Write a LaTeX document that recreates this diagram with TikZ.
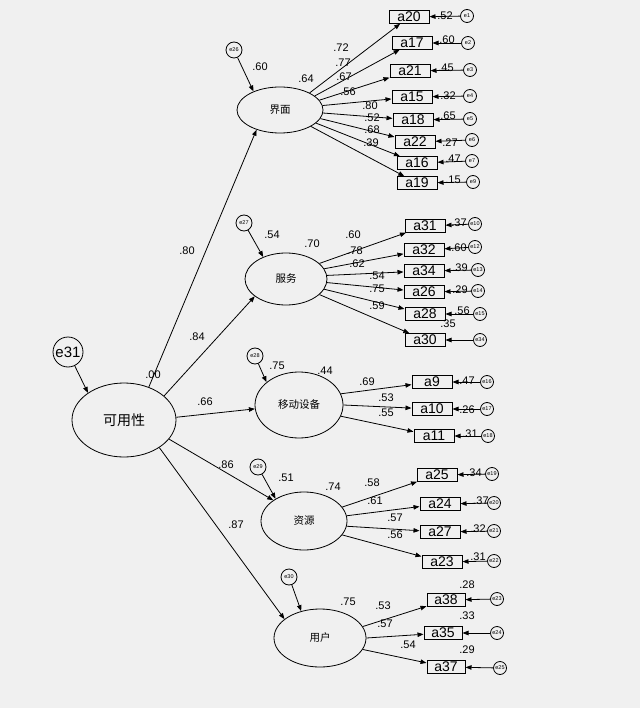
\documentclass[tikz,border=0pt]{standalone}
\usepackage{fontspec}
\setmainfont{Liberation Sans}
\newfontfamily\cjk{Noto Sans CJK SC}
\usetikzlibrary{shapes.geometric,arrows.meta}
\definecolor{bggray}{RGB}{240,240,240}

\begin{document}
\begin{tikzpicture}[x=1pt, y=-1pt, line width=0.8pt,
	lat/.style={ellipse, draw, inner sep=0pt, font=\cjk\fontsize{10.5}{12}\selectfont},
	obs/.style={draw, line width=1pt, minimum width=40pt, minimum height=12.5pt, inner sep=0pt, font=\fontsize{14}{14}\selectfont},
	err/.style={circle, draw, minimum size=13pt, inner sep=0pt, font=\fontsize{5.5}{6}\selectfont},
	val/.style={font=\fontsize{11}{11}\selectfont, inner sep=0pt},
	arr/.style={-{Triangle[length=6pt,width=4.5pt]}}]
	\path[use as bounding box, fill=bggray] (0,0) rectangle (640,708);
	% latent variables
	\node[lat, minimum width=104pt, minimum height=74pt, font=\cjk\fontsize{14}{14}\selectfont] (kyx) at (124, 420){可用性};
	\node[lat, minimum width=86pt, minimum height=46pt] (jm) at (280, 110){界面};
	\node[lat, minimum width=82pt, minimum height=52pt] (fw) at (286, 279){服务};
	\node[lat, minimum width=88pt, minimum height=66pt] (yd) at (299, 405){移动设备};
	\node[lat, minimum width=86pt, minimum height=58pt] (zy) at (304, 521){资源};
	\node[lat, minimum width=92pt, minimum height=58pt] (yh) at (320, 638){用户};
	% residuals of the latents
	\node[err, minimum size=30pt, font=\fontsize{15}{15}\selectfont] (e31) at (68, 352){e31};
	\node[err, minimum size=16pt] (e26) at (234, 50){e26};
	\node[err, minimum size=16pt] (e27) at (244, 223){e27};
	\node[err, minimum size=16pt] (e28) at (255, 356){e28};
	\node[err, minimum size=16pt] (e29) at (258, 467){e29};
	\node[err, minimum size=16pt] (e30) at (289, 577){e30};
	\draw[arr] (e31) -- (kyx.143);
	\draw[arr] (e26) -- (jm.145);
	\draw[arr] (e27) -- (fw.136);
	\draw[arr] (e28) -- (yd.145);
	\draw[arr] (e29) -- (zy.142);
	\draw[arr] (e30) -- (yh.125);
	% structural paths
	\draw[arr] (kyx.53) -- (jm.220);
	\draw[arr] (kyx.31) -- (fw.209);
	\draw[arr] (kyx.3) -- (yd.185);
	\draw[arr] (kyx.337) -- (zy.146);
	\draw[arr] (kyx.322) -- (yh.152);
	\node[val] (t00) at (153, 375){.00};
	\node[val] (t80) at (187, 251){.80};
	\node[val] (t84) at (197, 337){.84};
	\node[val] (t66) at (205, 402){.66};
	\node[val] (t86) at (226, 465){.86};
	\node[val] (t87) at (236, 525){.87};
	\node[val] (t60a) at (260, 67){.60};
	\node[val] (t64) at (306, 79){.64};
	\node[val] (t54a) at (272, 235){.54};
	\node[val] (t70) at (312, 244){.70};
	\node[val] (t75a) at (277, 366){.75};
	\node[val] (t44) at (325, 371){.44};
	\node[val] (t51) at (286, 478){.51};
	\node[val] (t74) at (333, 487){.74};
	\node[val] (t75b) at (348, 602){.75};

	% indicators of 界面
	\node[obs] (a20) at (409, 17){a20};
	\node[obs] (a17) at (412, 43){a17};
	\node[obs] (a21) at (410, 71){a21};
	\node[obs] (a15) at (412, 97){a15};
	\node[obs] (a18) at (413, 120){a18};
	\node[obs] (a22) at (415, 142){a22};
	\node[obs] (a16) at (417, 163){a16};
	\node[obs] (a19) at (417, 183){a19};
	\draw[arr] (jm.30) -- (a20);
	\draw[arr] (jm.22) -- (a17);
	\draw[arr] (jm.14) -- (a21);
	\draw[arr] (jm.6) -- (a15);
	\draw[arr] (jm.-4) -- (a18);
	\draw[arr] (jm.-12) -- (a22);
	\draw[arr] (jm.-20) -- (a16);
	\draw[arr] (jm.-28) -- (a19);
	\node[val] (l72) at (341, 48){.72};
	\node[val] (l77) at (343, 63){.77};
	\node[val] (l67) at (344, 77){.67};
	\node[val] (l56) at (348, 92){.56};
	\node[val] (l80) at (370, 106){.80};
	\node[val] (l52) at (372, 118){.52};
	\node[val] (l68) at (372, 130){.68};
	\node[val] (l39) at (371, 143){.39};
	\node[err] (e1) at (467, 16){e1};
	\node[err] (e2) at (468, 43){e2};
	\node[err] (e3) at (470, 70){e3};
	\node[err] (e4) at (470, 96){e4};
	\node[err] (e5) at (470, 119){e5};
	\node[err] (e6) at (472, 140){e6};
	\node[err] (e7) at (472, 161){e7};
	\node[err] (e9) at (473, 182){e9};
	\draw[arr] (e1) -- (a20);
	\draw[arr] (e2) -- (a17);
	\draw[arr] (e3) -- (a21);
	\draw[arr] (e4) -- (a15);
	\draw[arr] (e5) -- (a18);
	\draw[arr] (e6) -- (a22);
	\draw[arr] (e7) -- (a16);
	\draw[arr] (e9) -- (a19);
	\node[val] (r52) at (445, 16){.52};
	\node[val] (r60) at (447, 40){.60};
	\node[val] (r45) at (446, 68){.45};
	\node[val] (r32) at (448, 96){.32};
	\node[val] (r65) at (448, 116){.65};
	\node[val] (r27) at (450, 143){.27};
	\node[val] (r47) at (453, 159){.47};
	\node[val] (r15) at (453, 180){.15};

	% indicators of 服务
	\node[obs] (a31) at (425, 226){a31};
	\node[obs] (a32) at (424, 250){a32};
	\node[obs] (a34) at (424, 271){a34};
	\node[obs] (a26) at (424, 292){a26};
	\node[obs] (a28) at (425, 314){a28};
	\node[obs] (a30) at (425, 340){a30};
	\draw[arr] (fw.25) -- (a31);
	\draw[arr] (fw.15) -- (a32);
	\draw[arr] (fw.5) -- (a34);
	\draw[arr] (fw.-5) -- (a26);
	\draw[arr] (fw.-15) -- (a28);
	\draw[arr] (fw.-25) -- (a30);
	\node[val] (l60) at (353, 235){.60};
	\node[val] (l78) at (355, 251){.78};
	\node[val] (l62) at (357, 264){.62};
	\node[val] (l54) at (377, 276){.54};
	\node[val] (l75) at (377, 289){.75};
	\node[val] (l59) at (377, 306){.59};
	\node[err] (e10) at (475, 224){e10};
	\node[err] (e12) at (475, 247){e12};
	\node[err] (e13) at (478, 270){e13};
	\node[err] (e14) at (478, 291){e14};
	\node[err] (e15) at (480, 314){e15};
	\node[err] (e34) at (480, 340){e34};
	\draw[arr] (e10) -- (a31);
	\draw[arr] (e12) -- (a32);
	\draw[arr] (e13) -- (a34);
	\draw[arr] (e14) -- (a26);
	\draw[arr] (e15) -- (a28);
	\draw[arr] (e34) -- (a30);
	\node[val] (r37) at (459, 223){.37};
	\node[val] (r60b) at (459, 248){.60};
	\node[val] (r39) at (460, 268){.39};
	\node[val] (r29) at (460, 290){.29};
	\node[val] (r56) at (462, 311){.56};
	\node[val] (r35) at (448, 324){.35};

	% indicators of 移动设备
	\node[obs] (a9) at (432, 382){a9};
	\node[obs] (a10) at (432, 409){a10};
	\node[obs] (a11) at (434, 436){a11};
	\draw[arr] (yd.15) -- (a9);
	\draw[arr] (yd.0) -- (a10);
	\draw[arr] (yd.-15) -- (a11);
	\node[val] (l69) at (367, 382){.69};
	\node[val] (l53) at (386, 398){.53};
	\node[val] (l55) at (386, 413){.55};
	\node[err] (e16) at (487, 382){e16};
	\node[err] (e17) at (487, 409){e17};
	\node[err] (e18) at (488, 436){e18};
	\draw[arr] (e16) -- (a9);
	\draw[arr] (e17) -- (a10);
	\draw[arr] (e18) -- (a11);
	\node[val] (r47b) at (467, 381){.47};
	\node[val] (r26) at (467, 410){.26};
	\node[val] (r31) at (470, 434){.31};

	% indicators of 资源
	\node[obs] (a25) at (437, 475){a25};
	\node[obs] (a24) at (440, 504){a24};
	\node[obs] (a27) at (440, 532){a27};
	\node[obs] (a23) at (442, 562){a23};
	\draw[arr] (zy.20) -- (a25);
	\draw[arr] (zy.7) -- (a24);
	\draw[arr] (zy.-7) -- (a27);
	\draw[arr] (zy.-20) -- (a23);
	\node[val] (l58) at (372, 483){.58};
	\node[val] (l61) at (375, 501){.61};
	\node[val] (l57) at (395, 518){.57};
	\node[val] (l56b) at (395, 535){.56};
	\node[err] (e19) at (492, 474){e19};
	\node[err] (e20) at (494, 503){e20};
	\node[err] (e21) at (494, 531){e21};
	\node[err] (e22) at (494, 561){e22};
	\draw[arr] (e19) -- (a25);
	\draw[arr] (e20) -- (a24);
	\draw[arr] (e21) -- (a27);
	\draw[arr] (e22) -- (a23);
	\node[val] (r34) at (474, 473){.34};
	\node[val] (r37b) at (481, 501){.37};
	\node[val] (r32b) at (478, 529){.32};
	\node[val] (r31b) at (478, 557){.31};

	% indicators of 用户
	\node[obs, minimum width=38pt] (a38) at (446, 600){a38};
	\node[obs, minimum width=38pt] (a35) at (443, 633){a35};
	\node[obs, minimum width=38pt] (a37) at (446, 667){a37};
	\draw[arr] (yh.15) -- (a38);
	\draw[arr] (yh.0) -- (a35);
	\draw[arr] (yh.-15) -- (a37);
	\node[val] (l53b) at (383, 606){.53};
	\node[val] (l57b) at (385, 624){.57};
	\node[val] (l54b) at (408, 645){.54};
	\node[err] (e23) at (497, 599){e23};
	\node[err] (e24) at (497, 633){e24};
	\node[err] (e25) at (500, 668){e25};
	\draw[arr] (e23) -- (a38);
	\draw[arr] (e24) -- (a35);
	\draw[arr] (e25) -- (a37);
	\node[val] (r28) at (467, 585){.28};
	\node[val] (r33) at (467, 616){.33};
	\node[val] (r29b) at (467, 650){.29};
\end{tikzpicture}
\end{document}
